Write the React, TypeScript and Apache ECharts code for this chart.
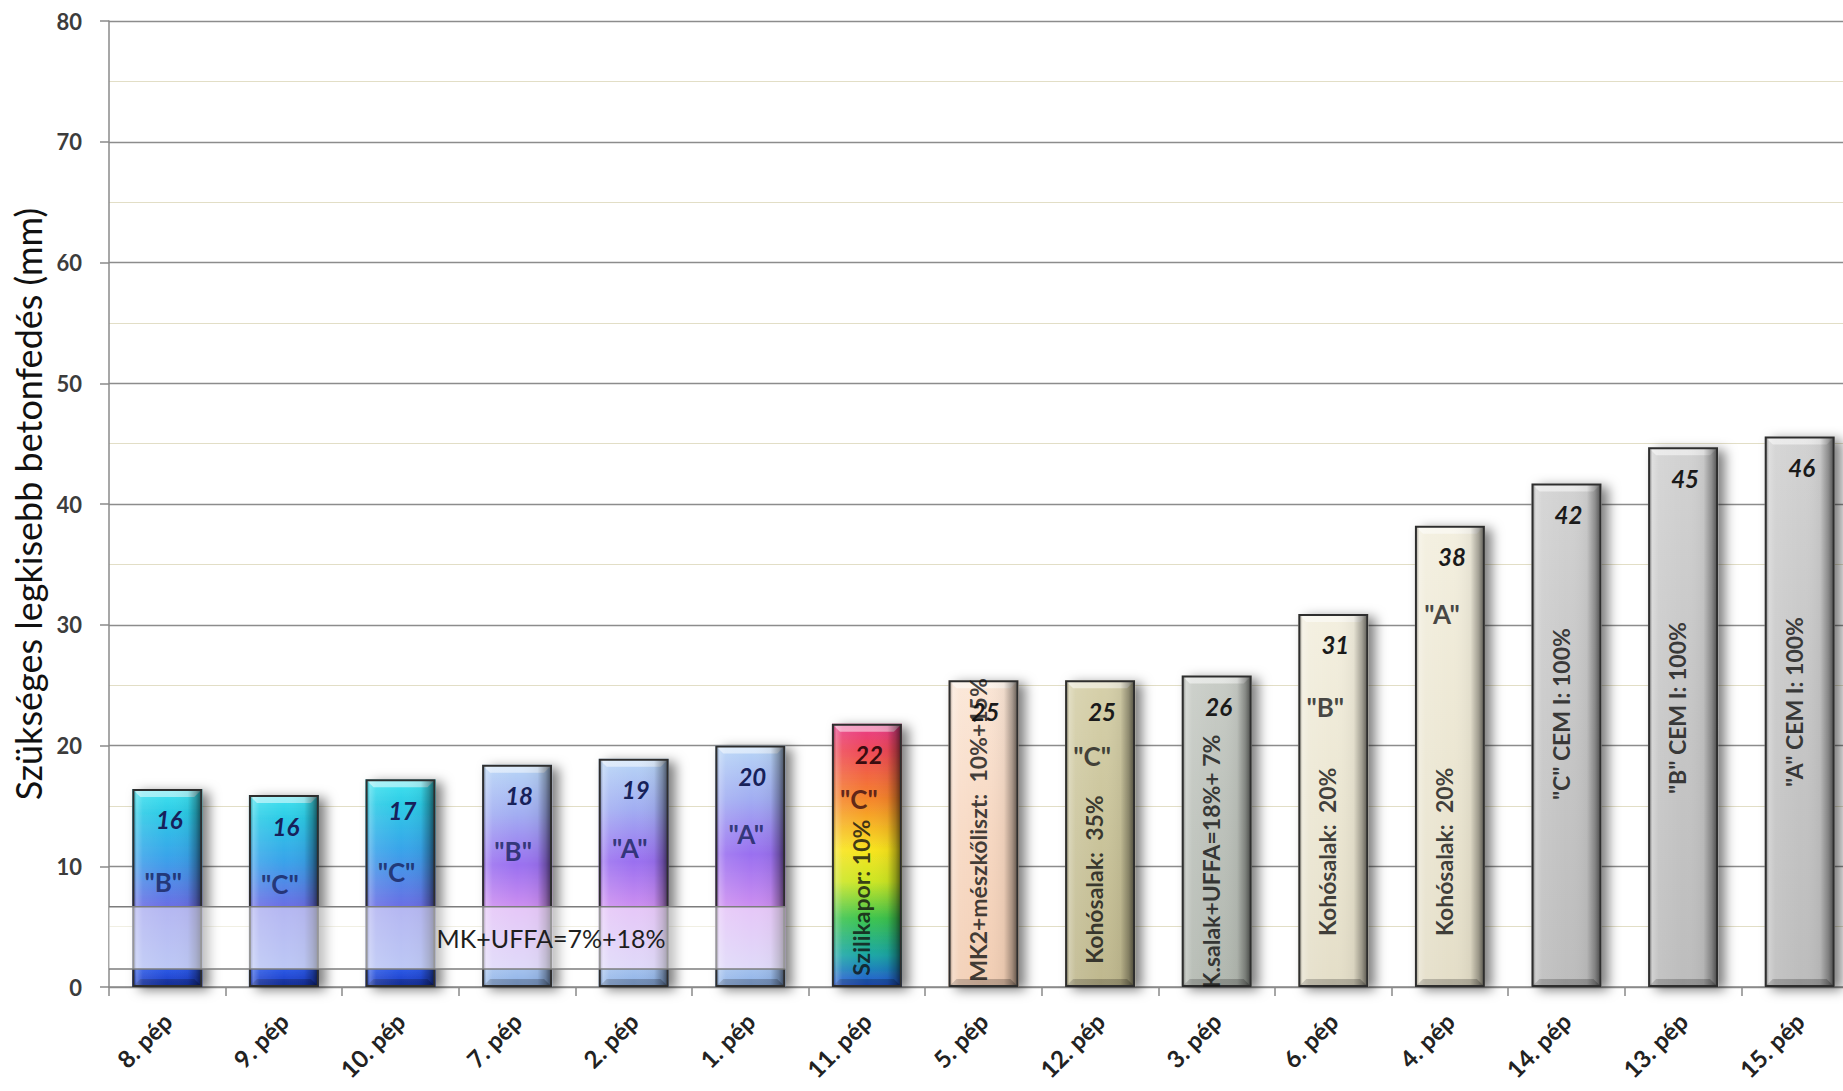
import React, { useEffect, useRef } from 'react';
import * as echarts from 'echarts';

// ---------- data ----------
const categories = ['8. pép', '9. pép', '10. pép', '7. pép', '2. pép', '1. pép', '11. pép', '5. pép', '12. pép', '3. pép', '6. pép', '4. pép', '14. pép', '13. pép', '15. pép'];
const values = [16.4, 15.9, 17.2, 18.4, 18.9, 20.0, 21.8, 25.4, 25.4, 25.8, 30.9, 38.2, 41.7, 44.7, 45.6];
const palettes = ['cyan', 'cyan', 'cyan', 'violet', 'violet', 'violet', 'rainbow', 'peach', 'khaki', 'sage', 'cream', 'cream', 'gray', 'gray', 'gray'];
const gradeLabels = ['"B"', '"C"', '"C"', '"B"', '"A"', '"A"', '"C"', '', '"C"', '', '"B"', '"A"', '', '', ''];
const gradeLevels = [8.7, 8.5, 9.5, 11.3, 11.5, 12.7, 15.6, 0, 19.1, 0, 23.2, 30.9, 0, 0, 0];
const mixLabels = ['', '', '', '', '', '', 'Szilikapor: 10%', 'MK2+mészkőliszt:  10%+15%', 'Kohósalak:  35%', 'K.salak+UFFA=18%+ 7%', 'Kohósalak:  20%', 'Kohósalak:  20%', '"C" CEM I: 100%', '"B" CEM I: 100%', '"A" CEM I: 100%'];
const mixLevels = [0, 0, 0, 0, 0, 0, 7.4, 13.0, 8.9, 10.4, 11.2, 11.2, 22.6, 23.1, 23.6];
const bandLabel = 'MK+UFFA=7%+18%';
const bandRange = [1.5, 6.65];
const bandCategories = [0, 5];
const yMin = 0;
const yMax = 80;
const yInterval = 10;
const yTitle = 'Szükséges legkisebb betonfedés (mm)';

const FONT = 'Lato, "Open Sans", sans-serif';
const BAR_RATIO = 0.6;

function stops(list: [number, string][]) {
  return list.map(([offset, color]) => ({ offset: Math.max(0, Math.min(1, offset)), color }));
}

function barFill(kind: string, v: number) {
  const hi = 1 - bandRange[1] / v;
  const lo = 1 - bandRange[0] / v;
  let cs: [number, string][];
  switch (kind) {
    case 'cyan':
      cs = [[0, '#44e4f0'], [0.12, '#2ccbe6'], [0.35, '#3aa2ea'], [hi, '#6a6ee4'], [lo - 0.002, '#7a90ea'], [lo, '#2c5ae6'], [1, '#1a38c0']];
      break;
    case 'violet':
      cs = [[0, '#b8d6f6'], [0.22, '#a2aef2'], [0.45, '#9a70f0'], [hi, '#cc8ef0'], [lo - 0.002, '#c0b4f2'], [lo, '#a4c2ee'], [1, '#8cb0e6']];
      break;
    case 'rainbow':
      cs = [[0, '#e83c8c'], [0.1, '#ee4858'], [0.28, '#f5822c'], [0.48, '#f8e41e'], [0.6, '#cce624'], [0.74, '#3cc44e'], [0.88, '#1aa6a6'], [1, '#2552d6']];
      break;
    case 'peach':
      cs = [[0, '#fbe6d6'], [0.5, '#f7d8c2'], [1, '#f2ceb4']];
      break;
    case 'khaki':
      cs = [[0, '#d6d0aa'], [0.5, '#cac49b'], [1, '#bfb88e']];
      break;
    case 'sage':
      cs = [[0, '#c8ccc6'], [0.5, '#bcc1ba'], [1, '#b2b8b0']];
      break;
    case 'cream':
      cs = [[0, '#f3efdf'], [0.5, '#ece7d3'], [1, '#e4dec8']];
      break;
    default:
      cs = [[0, '#d2d2d2'], [0.5, '#c6c6c6'], [1, '#bdbdbd']];
  }
  return { type: 'linear', x: 0, y: 0, x2: 0, y2: 1, colorStops: stops(cs) };
}

const labelColor = (i: number) => (i < 6 ? '#17215a' : i === 6 ? '#3a0c10' : '#1a1a1a');

export default function App() {
  const ref = useRef<HTMLDivElement>(null);

  useEffect(() => {
    if (!ref.current) return;
    document.body.style.overflow = 'hidden';
    const chart = echarts.init(ref.current, undefined, { renderer: 'svg' });

    const baseData = values.map((v, i) => ({
      value: v,
      itemStyle: { color: barFill(palettes[i], v) },
    }));

    const overlayGradient = {
      type: 'linear', x: 0, y: 0, x2: 1, y2: 0,
      colorStops: [
        { offset: 0, color: 'rgba(0,0,0,0.35)' },
        { offset: 0.05, color: 'rgba(255,255,255,0.30)' },
        { offset: 0.14, color: 'rgba(255,255,255,0.10)' },
        { offset: 0.5, color: 'rgba(255,255,255,0)' },
        { offset: 0.8, color: 'rgba(0,0,0,0.05)' },
        { offset: 0.92, color: 'rgba(0,0,0,0.32)' },
        { offset: 1, color: 'rgba(0,0,0,0.6)' },
      ],
    };

    const gradeData = gradeLabels
      .map((t, i) => [i, gradeLevels[i], t])
      .filter((d) => d[2] !== '')
      .map((d) => ({
        value: d,
        label: { color: labelColor(d[0] as number), offset: [(d[0] as number) < 6 ? -4 : -8, 0] },
      }));
    const mixData = mixLabels
      .map((t, i) => [i, mixLevels[i], t])
      .filter((d) => d[2] !== '');

    const option: any = {
      animation: false,
      backgroundColor: '#ffffff',
      grid: { left: 109, right: 0, top: 21, bottom: 104, containLabel: false },
      xAxis: {
        type: 'category',
        data: categories,
        axisLine: { lineStyle: { color: '#8a8a8a', width: 1.5 } },
        axisTick: { show: true, length: 9, interval: 0, lineStyle: { color: '#8a8a8a', width: 1.5 } },
        axisLabel: {
          interval: 0,
          rotate: 45,
          margin: 30,
          fontFamily: FONT,
          fontSize: 24,
          fontWeight: 'bold',
          color: '#222',
        },
      },
      yAxis: {
        type: 'value',
        min: yMin,
        max: yMax,
        interval: yInterval,
        name: yTitle,
        nameLocation: 'middle',
        nameGap: 62,
        nameTextStyle: { fontFamily: FONT, fontSize: 36, color: '#111' },
        axisLine: { show: true, lineStyle: { color: '#8a8a8a', width: 1.5 } },
        axisTick: { show: true, length: 9, lineStyle: { color: '#8a8a8a', width: 1.5 } },
        axisLabel: { margin: 27, fontFamily: FONT, fontSize: 22, fontWeight: 'bold', color: '#3c3c3c' },
        splitLine: { show: true, lineStyle: { color: '#8c8c8c', width: 1.3 } },
        minorTick: { show: false, splitNumber: 2 },
        minorSplitLine: { show: true, lineStyle: { color: '#e2dec6', width: 1.2 } },
      },
      series: [
        {
          type: 'bar',
          name: 'base',
          data: baseData,
          barWidth: BAR_RATIO * 100 + '%',
          barGap: '-100%',
          z: 2,
          itemStyle: {
            shadowColor: 'rgba(0,0,0,0.5)',
            shadowBlur: 12,
            shadowOffsetX: 7,
            shadowOffsetY: 3,
          },
          silent: true,
        },
        {
          type: 'bar',
          name: 'overlay',
          data: values.map((v, i) => ({
            value: v,
            label: { color: labelColor(i) },
          })),
          barWidth: BAR_RATIO * 100 + '%',
          barGap: '-100%',
          z: 4,
          silent: true,
          itemStyle: { color: overlayGradient, borderColor: '#2e2e2e', borderWidth: 2 },
          label: {
            show: true,
            position: 'insideTop',
            distance: 19,
            offset: [2, 0],
            formatter: (p: any) => String(Math.round(p.value)),
            fontFamily: FONT,
            fontSize: 24,
            fontStyle: 'italic',
            fontWeight: 'bold',
          },
        },
        {
          type: 'custom',
          name: 'bevel',
          z: 3,
          silent: true,
          data: values.map((v, i) => [i, v]),
          renderItem: (params: any, api: any) => {
            const i = api.value(0);
            const v = api.value(1);
            const top = api.coord([i, v]);
            const base = api.coord([i, 0]);
            const bw = api.size([1, 0])[0] * BAR_RATIO;
            const x0 = top[0] - bw / 2;
            const x1 = top[0] + bw / 2;
            const d = 8;
            return {
              type: 'group',
              children: [
                {
                  type: 'polygon',
                  shape: { points: [[x0, top[1]], [x1, top[1]], [x1 - d, top[1] + d], [x0 + d, top[1] + d]] },
                  style: { fill: 'rgba(255,255,255,0.5)' },
                },
                {
                  type: 'polygon',
                  shape: { points: [[x0, base[1]], [x1, base[1]], [x1 - d, base[1] - d], [x0 + d, base[1] - d]] },
                  style: { fill: 'rgba(0,0,0,0.22)' },
                },
              ],
            };
          },
        },
        {
          type: 'custom',
          name: 'band',
          z: 5,
          silent: true,
          clip: false,
          data: [[bandCategories[0], bandRange[0]]],
          renderItem: (params: any, api: any) => {
            const cw = api.size([1, 0])[0];
            const bw = cw * BAR_RATIO;
            const topLeft = api.coord([bandCategories[0], bandRange[1]]);
            const botRight = api.coord([bandCategories[1], bandRange[0]]);
            const left = topLeft[0] - cw / 2;
            const right = botRight[0] + bw / 2;
            const top = topLeft[1];
            const bottom = botRight[1];
            const textX = api.coord([2, 0])[0] + bw / 2 + 1;
            return {
              type: 'group',
              children: [
                {
                  type: 'rect',
                  shape: { x: left, y: top, width: right - left, height: bottom - top },
                  style: { fill: 'rgba(255,255,255,0.5)' },
                },
                {
                  type: 'line',
                  shape: { x1: left, y1: top, x2: right, y2: top },
                  style: { stroke: '#7c7c7c', lineWidth: 1.5 },
                },
                {
                  type: 'line',
                  shape: { x1: left, y1: bottom, x2: right, y2: bottom },
                  style: { stroke: '#7c7c7c', lineWidth: 1.5 },
                },
                {
                  type: 'text',
                  x: textX,
                  y: (top + bottom) / 2,
                  style: {
                    text: bandLabel,
                    fill: '#1e1e1e',
                    fontFamily: FONT,
                    fontSize: 25,
                    textAlign: 'left',
                    verticalAlign: 'middle',
                  },
                },
              ],
            };
          },
        },
        {
          type: 'scatter',
          name: 'grades',
          z: 6,
          silent: true,
          symbolSize: 0,
          data: gradeData,
          label: {
            show: true,
            position: 'inside',
            formatter: (p: any) => p.value[2],
            fontFamily: FONT,
            fontSize: 26,
            fontWeight: 'bold',
          },
        },
        {
          type: 'scatter',
          name: 'mixes',
          z: 6,
          silent: true,
          symbolSize: 0,
          data: mixData,
          label: {
            show: true,
            position: 'inside',
            rotate: 90,
            offset: [0, -6],
            formatter: (p: any) => p.value[2],
            fontFamily: FONT,
            fontSize: 23,
            fontWeight: 'bold',
            color: '#111',
          },
        },
      ],
    };

    chart.setOption(option);
    return () => chart.dispose();
  }, []);

  return (
    <div
      ref={ref}
      style={{ position: 'fixed', left: 0, top: 0, width: 1858, height: 1091, background: '#fff' }}
    />
  );
}
